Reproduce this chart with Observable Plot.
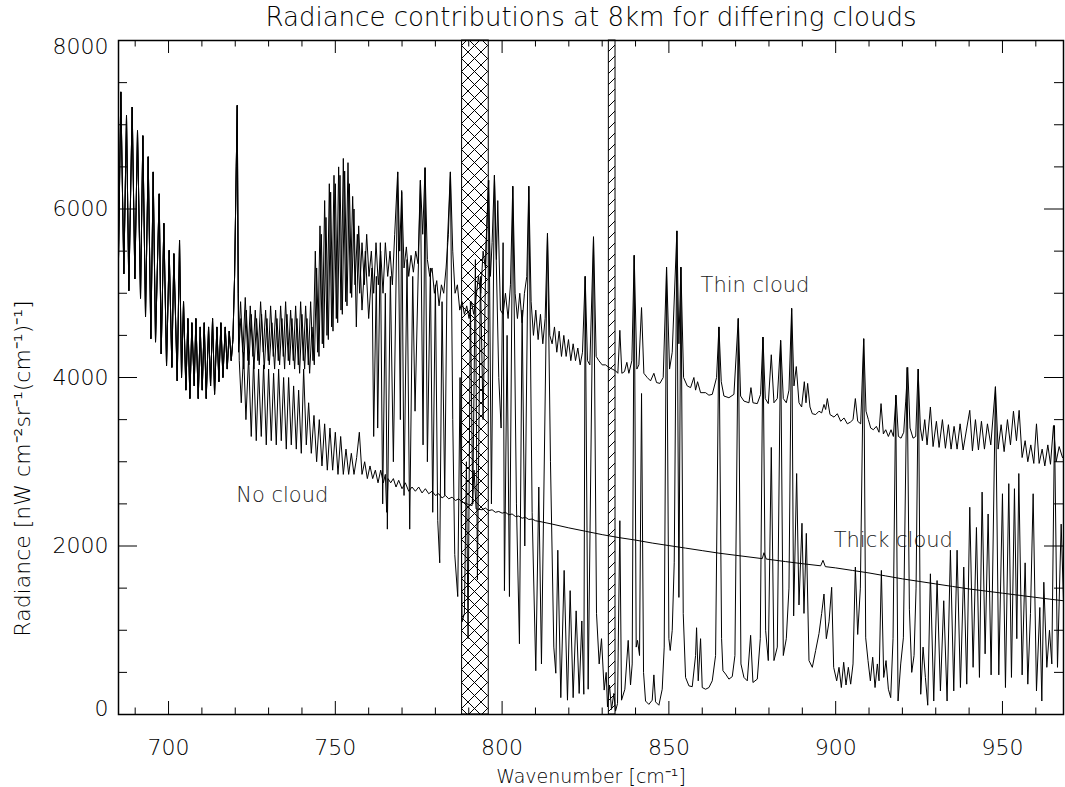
<!DOCTYPE html>
<html><head><meta charset="utf-8">
<script src="https://cdn.jsdelivr.net/npm/d3@7"></script>
<script src="https://cdn.jsdelivr.net/npm/@observablehq/plot@0.6"></script>
<style>
html,body{margin:0;padding:0;background:#fff;}
#chart{width:1065px;height:787px;}
</style></head><body><div id="chart"></div>
<script>
// ---- Text ----
const titleText = "Radiance contributions at 8km for differing clouds";
const xLabelText = "Wavenumber [cm\u207B\u00B9]";
const yLabelText = "Radiance [nW cm\u207B\u00B2sr\u207B\u00B9(cm\u207B\u00B9)\u207B\u00B9]";

// ---- Axes ----
const xDomain = [685, 968.3];
const yDomain = [0, 8000];
const xTickLabels = [700, 750, 800, 850, 900, 950];
const xMinorTicks = [690, 710, 720, 730, 740, 760, 770, 780, 790, 810, 820, 830, 840, 860, 870, 880, 890, 910, 920, 930, 940, 960];
const yTickLabelsInner = [2000, 4000, 6000];
const yTickLabelBottom = [0];
const yTickLabelTop = [8000];
const yMajorTicks = [2000, 4000, 6000];
const yMinorTicks = [500, 1000, 1500, 2500, 3000, 3500, 4500, 5000, 5500, 6500, 7000, 7500];

// ---- Hatched windows [wavenumber from, to] ----
const crossBand = [788, 796];
const diagBand = [832, 834];

// ---- Curve labels [text, wavenumber, radiance] ----
const curveLabels = [["Thin cloud", 859.5, 5090], ["No cloud", 720.3, 2600], ["Thick cloud", 899.4, 2065]];

// ---- Spectra: [wavenumber, radiance] ----
// 685-721 cm-1: all three cases coincide
const commonSegment = [
[685.0,5400],[685.7,7390],[686.6,5230],[687.4,7110],[688.1,5030],[689.1,7210],[689.9,5170],[690.7,6930],
[691.6,4940],[692.3,6870],[693.1,4720],[693.9,6620],[694.7,4460],[695.4,6440],[696.1,4420],[697.2,6180],
[697.8,4280],[698.6,5830],[699.4,4140],[700.2,5510],[701.0,4120],[701.6,5470],[702.6,3960],[703.3,5630],
[703.9,4000],[704.5,4900],[705.2,3850],[705.8,4700],[706.4,3750],[707.0,4650],[707.7,3900],[708.2,4700],
[708.9,3750],[709.5,4600],[710.1,3850],[710.7,4650],[711.3,3750],[712.0,4600],[712.6,3900],[713.2,4700],
[713.8,3800],[714.5,4600],[715.1,3950],[715.7,4650],[716.3,4000],[717.0,4600],[717.6,4100],[718.2,4550],
[718.8,4200],[719.3,4450],[719.8,5200],[720.3,6500],[720.6,7230],[720.9,5000]
];

const thinCloud = [
[721.0,4400],[721.6,4900],[722.3,4300],[723.0,4950],[723.8,4200],[724.5,4850],[725.3,4250],[726.0,4800],
[726.8,4200],[727.6,4900],[728.4,4300],[729.1,4800],[729.9,4200],[730.6,4850],[731.4,4250],[732.1,4800],
[732.9,4200],[733.6,4850],[734.4,4250],[735.1,4900],[735.9,4200],[736.6,4800],[737.4,4200],[738.1,4850],
[738.9,4150],[739.6,4900],[740.4,4200],[741.1,4850],[741.9,4150],[742.6,4900],[743.3,4200],[744.0,5500],
[744.7,4300],[745.4,5800],[746.1,4400],[746.8,6100],[747.5,4500],[748.2,6300],[748.9,4600],[749.6,6400],
[750.3,4700],[751.0,6500],[751.7,4800],[752.4,6600],[753.1,4900],[753.8,6550],[754.5,5000],[755.2,6150],
[755.9,5100],[756.6,5700],[757.3,5000],[758.0,5600],[758.7,5100],[759.4,5700],[760.1,5200],[760.8,5500],
[761.5,5000],[762.2,5600],[762.9,5100],[763.6,5500],[764.3,5000],[765.0,5600],[765.7,5200],[766.4,5500],
[767.1,5100],[767.8,5700],[768.7,6440],[769.3,5500],[769.9,6220],[770.6,5300],[771.3,5550],[772.0,5200],
[772.7,5450],[773.4,5250],[774.1,5500],[774.8,5350],[775.5,6340],[776.2,5700],[776.9,6490],[777.6,5400],
[778.3,5200],[779.0,5300],[779.7,5000],[780.4,5150],[781.1,4850],[781.8,5100],[782.5,5000],[783.2,5300],
[783.9,5700],[784.5,6440],[785.2,5500],[785.9,5000],[786.6,5100],[787.3,4800],[788.0,4900],[788.7,4750],
[789.4,4850],[790.1,4700],[790.8,4900],[791.5,4750],[792.2,4950],[792.9,5200],[793.6,5000],[794.3,5500],
[795.0,5300],[795.9,6340],[796.5,5200],[797.0,5600],[797.7,6400],[798.3,5400],[798.7,6100],[799.5,4800],
[800.3,4750],[801.0,5000],[801.8,4700],[802.5,5100],[803.2,6270],[803.9,5000],[804.6,4700],[805.3,5000],
[806.0,4650],[806.7,5000],[807.4,5200],[808.0,6270],[808.7,4900],[809.4,4500],[810.1,4800],[810.8,4450],
[811.5,4750],[812.2,4400],[812.9,4700],[813.6,5710],[814.3,4500],[815.0,4400],[815.7,4600],[816.4,4300],
[817.1,4550],[817.8,4250],[818.5,4500],[819.2,4250],[819.9,4450],[820.6,4200],[821.3,4400],[822.0,4200],
[822.7,4350],[823.4,4150],[824.1,4300],[824.9,5200],[825.6,4200],[826.3,4150],[827.4,5670],[828.2,4250],
[829.0,4200],[830.0,4150],[831.0,4150],[832.0,4120],[833.0,4100],[834.0,4080],[834.7,4050],[835.3,4560],
[835.9,4050],[836.7,4070],[837.4,4180],[838.0,4050],[838.9,4200],[839.6,5450],[840.4,4100],[841.0,4150],
[841.8,4830],[842.5,4050],[843.5,4000],[844.5,3960],[845.5,4050],[846.3,3940],[847.3,3930],[848.3,4000],
[849.3,5310],[850.2,4100],[851.0,4300],[852.4,5740],[853.0,4400],[853.6,5310],[854.4,4000],[855.5,3900],
[856.5,3880],[857.5,4000],[858.0,3850],[858.6,3950],[859.5,3820],[861.0,3820],[862.0,3790],[863.0,3800],
[864.3,4000],[865.0,4600],[865.7,3950],[866.5,3780],[868.0,3760],[869.5,3800],[870.8,4700],[871.5,3780],
[872.5,3720],[874.0,3700],[874.6,3880],[875.2,3700],[876.5,3690],[877.5,3800],[878.2,4480],[878.9,3750],
[879.8,3690],[880.7,4270],[881.5,3700],[882.5,3750],[883.5,4440],[884.3,3750],[885.2,3700],[886.0,3850],
[886.8,4820],[887.5,3900],[888.2,4130],[889.0,3700],[889.8,3650],[890.6,3950],[891.1,3700],[891.6,3930],
[892.3,3650],[893.0,3570],[894.0,3560],[895.0,3600],[895.8,3580],[896.5,3680],[897.0,3620],[897.5,3750],
[898.3,3560],[899.5,3530],[900.5,3570],[901.5,3480],[902.5,3520],[903.5,3450],[904.4,3470],[905.2,3500],
[905.9,3750],[906.6,3480],[907.5,3450],[908.4,4460],[909.1,3600],[909.8,3500],[910.5,3400],[911.3,3380],
[912.2,3420],[913.0,3350],[913.6,3690],[914.3,3330],[915.0,3380],[915.8,3300],[916.6,3380],[917.3,3300],
[918.1,3790],[918.8,3300],[919.6,3280],[920.4,3350],[921.0,3720],[921.6,4120],[922.3,3400],[923.2,3280],
[924.0,3300],[924.7,4100],[925.4,3400],[926.0,3250],[926.7,3500],[927.4,3200],[928.4,3650],[929.2,3180],
[930.2,3480],[931.0,3170],[932.0,3500],[932.9,3160],[933.8,3440],[934.6,3150],[935.5,3420],[936.4,3150],
[937.3,3450],[938.2,3140],[939.3,3400],[940.2,3610],[941.0,3130],[941.9,3500],[942.8,3140],[943.7,3480],
[944.6,3150],[945.5,3450],[946.5,3200],[947.9,3890],[948.7,3150],[949.6,3440],[950.5,3120],[951.5,3500],
[952.4,3200],[953.3,3600],[954.2,3250],[955.0,3610],[955.9,3050],[956.8,3250],[957.6,3000],[958.5,3200],
[959.4,2980],[960.2,3450],[961.0,2980],[961.9,3150],[962.7,2950],[963.6,3200],[964.4,2970],[965.3,3430],
[966.1,3000],[967.0,3180],[968.0,3050]
];

const thickCloud = [
[721.0,4300],[721.7,4700],[722.5,4100],[723.3,4800],[724.1,4150],[724.8,4750],[725.6,4100],[726.4,4700],
[727.2,4150],[727.9,4750],[728.7,4100],[729.5,4700],[730.2,4150],[731.0,4650],[731.8,4100],[732.5,4700],
[733.3,4150],[734.0,4700],[734.8,4100],[735.5,4750],[736.3,4150],[737.0,4700],[737.8,4100],[738.5,4700],
[739.3,4050],[740.0,4750],[740.8,4100],[741.5,4700],[742.3,4050],[743.0,4600],[743.7,4150],[744.4,5300],
[745.1,4250],[745.8,5700],[746.5,4350],[747.2,5900],[747.9,4450],[748.6,6200],[749.3,4550],[750.0,6300],
[750.7,4650],[751.4,6400],[752.1,4750],[752.8,6450],[753.5,4850],[754.2,6300],[754.9,4950],[755.6,6000],
[756.3,4600],[757.0,5800],[758.0,4800],[759.0,5500],[760.0,4700],[761.0,5300],[761.5,3300],[762.3,5200],
[762.7,3400],[763.5,5600],[764.2,2500],[765.0,5000],[765.6,2200],[766.5,5200],[767.4,3000],[768.7,6440],
[769.5,3500],[769.9,6200],[770.6,2600],[771.5,5400],[772.3,2200],[773.2,5200],[773.9,3600],[775.5,6340],
[776.3,3200],[776.9,6490],[777.6,3000],[778.5,5300],[779.2,2400],[780.0,5100],[780.7,2300],[781.3,1800],
[782.0,4900],[782.8,2600],[783.6,5600],[784.5,6440],[785.2,3500],[785.8,1900],[786.7,1400],[787.4,4000],
[788.0,1100],[788.7,1200],[789.3,3000],[789.8,900],[790.5,4900],[791.2,2500],[792.0,5400],[792.6,1600],
[793.5,5200],[794.3,3500],[795.2,5600],[796.0,6340],[796.8,2500],[797.7,6400],[799.0,4000],[799.7,3400],
[800.3,5600],[800.7,1470],[801.5,4500],[802.2,1400],[803.2,6270],[804.3,2500],[805.2,840],[806.0,4800],
[806.8,2000],[808.0,6270],[809.0,2400],[810.1,520],[811.0,2700],[811.8,600],[813.6,5710],[814.5,3000],
[815.5,800],[816.1,490],[816.7,1950],[817.6,200],[818.6,1710],[819.6,170],[820.4,1470],[821.3,200],
[822.2,1230],[823.1,250],[823.9,1110],[824.5,240],[824.9,5200],[825.8,300],[827.4,5670],[828.3,1200],
[829.1,600],[829.8,900],[830.6,290],[831.2,500],[831.6,90],[832.2,350],[832.8,60],[833.5,250],
[834.0,40],[834.6,130],[835.3,2300],[835.8,170],[836.8,300],[837.8,880],[838.5,350],[839.0,600],
[839.6,5450],[840.2,800],[840.6,880],[841.2,700],[841.8,3810],[842.4,500],[843.0,160],[844.0,120],
[845.0,170],[845.5,470],[846.0,150],[847.0,110],[848.0,300],[848.6,800],[849.3,5310],[850.0,900],
[850.4,760],[851.0,1000],[851.6,1800],[852.4,5740],[853.0,1390],[853.6,5310],[854.3,1200],[855.0,440],
[856.0,340],[857.0,330],[858.0,700],[858.3,1030],[858.8,400],[859.5,900],[860.0,320],[861.0,300],
[862.0,320],[863.0,400],[864.0,700],[865.0,4600],[865.8,900],[866.2,520],[867.0,480],[868.0,420],
[869.0,450],[869.8,700],[870.8,4700],[871.6,600],[872.5,440],[873.5,400],[874.5,940],[875.2,380],
[876.5,420],[877.4,900],[878.2,4480],[879.0,1000],[879.8,640],[880.7,3170],[881.5,640],[882.5,800],
[883.5,4440],[884.3,700],[885.2,900],[886.0,1500],[886.8,4820],[887.4,1170],[888.3,2860],[889.0,1300],
[889.9,2270],[890.5,1200],[891.2,2150],[892.0,640],[893.0,560],[894.0,760],[895.0,960],[895.8,1200],
[896.5,1430],[897.2,900],[898.0,1100],[898.8,1510],[899.4,560],[900.3,400],[901.0,560],[901.7,320],
[902.4,620],[903.1,350],[903.8,560],[904.5,360],[905.2,600],[905.9,1750],[906.6,950],[907.4,1500],
[908.4,4460],[909.0,910],[909.7,640],[910.4,400],[911.1,680],[911.8,320],[912.5,600],[913.0,400],
[913.7,1710],[914.4,440],[915.1,640],[915.8,300],[916.5,200],[917.2,900],[918.0,3790],[918.7,160],
[919.5,600],[920.3,910],[921.4,4120],[922.1,1250],[922.8,500],[923.5,700],[924.1,1500],[924.8,4100],
[925.5,240],[926.2,800],[926.9,440],[927.6,110],[928.4,1670],[929.4,160],[930.4,1590],[931.4,280],
[932.4,1350],[933.4,160],[934.4,1950],[935.4,280],[936.4,1950],[937.4,320],[938.4,1750],[939.3,360],
[940.2,2460],[941.2,560],[942.2,2220],[943.1,440],[943.9,2640],[944.8,720],[945.7,2380],[946.6,470],
[947.9,3890],[948.9,470],[950.0,2620],[950.9,320],[951.9,2740],[952.7,440],[953.6,2680],[954.3,900],
[954.9,2860],[955.9,470],[956.8,1800],[957.6,360],[958.4,1200],[959.2,2620],[960.2,280],[961.2,1270],
[961.8,160],[962.4,1570],[963.3,560],[964.1,1000],[964.8,600],[965.6,3430],[966.5,560],[967.6,2260],
[968.3,1350]
];

const noCloud = [
[721.2,4200],[721.8,3700],[722.5,4300],[723.2,3500],[724.0,4250],[724.8,3300],[725.5,4200],[726.3,3250],
[727.0,4100],[727.8,3300],[728.5,4150],[729.3,3200],[730.0,4100],[730.8,3250],[731.5,4050],[732.3,3200],
[733.0,4100],[733.8,3250],[734.5,4000],[735.3,3150],[736.0,4000],[736.8,3200],[737.5,3900],[738.3,3150],
[739.0,3850],[739.8,3100],[740.5,4100],[741.3,3200],[742.0,3700],[742.8,3100],[743.6,3550],[744.4,3000],
[745.2,3500],[746.0,2950],[746.8,3450],[747.6,2900],[748.4,3400],[749.2,2900],[750.0,3350],[750.8,2850],
[751.6,3300],[752.4,2850],[753.2,3150],[754.0,2850],[754.8,3100],[755.6,2850],[756.4,3050],[757.2,3350],
[758.0,2850],[758.8,3000],[759.6,2800],[760.4,2950],[761.2,2800],[762.0,2900],[762.8,2750],[763.6,2900],
[764.4,2750],[765.0,2850],[765.4,2400],[765.8,2800],[766.6,2750],[767.4,2800],[768.2,2700],[769.0,2780],
[770.0,2680],[771.0,2750],[772.0,2650],[773.0,2700],[774.0,2650],[775.0,2700],[776.0,2630],[777.0,2680],
[778.0,2620],[779.0,2650],[780.0,2600],[781.0,2620],[782.0,2570],[783.0,2600],[784.0,2560],[785.0,2580],
[786.0,2540],[787.0,2560],[788.0,2520],[789.0,2510],[790.0,2490],[791.0,2480],[791.6,2900],[792.2,2440],
[794.0,2430],[795.0,2450],[796.0,2420],[797.0,2430],[798.0,2400],[799.0,2410],[800.0,2390],[801.0,2400],
[802.0,2370],[803.0,2380],[804.0,2350],[805.0,2355],[806.0,2330],[807.0,2340],[808.0,2315],[809.0,2320],
[810.0,2300],[812.0,2285],[815.0,2260],[820.0,2215],[825.0,2175],[830.0,2135],[835.0,2100],[840.0,2070],
[845.0,2035],[850.0,2005],[855.0,1975],[860.0,1945],[865.0,1915],[870.0,1890],[878.0,1850],[878.5,1920],
[879.2,1845],[885.0,1815],[890.0,1790],[895.5,1765],[896.2,1830],[896.9,1755],[900.0,1740],[905.0,1710],
[910.0,1680],[915.0,1645],[920.0,1610],[925.0,1580],[930.0,1550],[935.0,1520],[940.0,1490],[945.0,1465],
[950.0,1440],[955.0,1415],[960.0,1390],[964.0,1370],[968.3,1350]
];

// ---- Build table ----
const series = [
  ["Thin cloud", commonSegment.concat(thinCloud)],
  ["Thick cloud", commonSegment.concat(thickCloud)],
  ["No cloud", commonSegment.concat(noCloud)]
];
const rows = series.flatMap(([name, pts]) => pts.map(([wn, rad]) => ({name, wn, rad})));

const W = 945, H = 674; // frame size in px
const font = "'DejaVu Sans', 'Liberation Sans', sans-serif";

const plot = Plot.plot({
  width: 1065,
  height: 787,
  marginLeft: 118,
  marginRight: 2,
  marginTop: 40,
  marginBottom: 73,
  x: {domain: xDomain},
  y: {domain: yDomain},
  style: {fontFamily: font, fontWeight: 200, color: "#000", background: "#fff"},
  marks: [
    // curve labels (under the lines)
    Plot.text(curveLabels, {x: d => d[1], y: d => d[2], text: d => d[0], textAnchor: "start", lineAnchor: "middle", fontSize: 21, fill: "#222", letterSpacing: "0.8px"}),
    // hatched windows
    Plot.rect([crossBand], {x1: d => d[0], x2: d => d[1], y1: yDomain[0], y2: yDomain[1], fill: "url(#xhatch)", stroke: "#000", strokeWidth: 1}),
    Plot.rect([diagBand], {x1: d => d[0], x2: d => d[1], y1: yDomain[0], y2: yDomain[1], fill: "url(#dhatch)", stroke: "#000", strokeWidth: 1}),
    // spectra
    Plot.line(rows, {x: "wn", y: "rad", z: "name", stroke: "#000", strokeWidth: 1, strokeLinejoin: "miter"}),
    // frame
    Plot.frame({stroke: "#000", strokeWidth: 1.5}),
    // inward ticks, bottom & top
    Plot.ruleX(xTickLabels, {insetTop: H - 13, stroke: "#000"}),
    Plot.ruleX(xMinorTicks, {insetTop: H - 6.5, stroke: "#000"}),
    Plot.ruleX(xTickLabels, {insetBottom: H - 13, stroke: "#000"}),
    Plot.ruleX(xMinorTicks, {insetBottom: H - 6.5, stroke: "#000"}),
    // inward ticks, left & right
    Plot.ruleY(yMajorTicks, {insetRight: W - 19, stroke: "#000"}),
    Plot.ruleY(yMinorTicks, {insetRight: W - 9, stroke: "#000"}),
    Plot.ruleY(yMajorTicks, {insetLeft: W - 19, stroke: "#000"}),
    Plot.ruleY(yMinorTicks, {insetLeft: W - 9, stroke: "#000"}),
    // tick labels
    Plot.axisX(xTickLabels, {anchor: "bottom", tickSize: 0, tickPadding: 25, fontSize: 22, label: null, tickFormat: d => String(d)}),
    Plot.axisY(yTickLabelsInner, {anchor: "left", tickSize: 0, tickPadding: 10, fontSize: 22, label: null, tickFormat: d => String(d)}),
    Plot.axisY(yTickLabelBottom, {anchor: "left", tickSize: 0, tickPadding: 10, fontSize: 22, label: null, dy: -6, tickFormat: d => String(d)}),
    Plot.axisY(yTickLabelTop, {anchor: "left", tickSize: 0, tickPadding: 10, fontSize: 22, label: null, dy: 6, tickFormat: d => String(d)}),
    // titles
    Plot.text([titleText], {frameAnchor: "top", dy: -23, lineAnchor: "middle", textAnchor: "middle", fontSize: 26, letterSpacing: "1.3px", fill: "#000"}),
    Plot.text([xLabelText], {frameAnchor: "bottom", dy: 62, lineAnchor: "middle", textAnchor: "middle", fontSize: 19, letterSpacing: "0.8px", fill: "#000"}),
    Plot.text([yLabelText], {frameAnchor: "left", dx: -96, dy: 91, rotate: -90, lineAnchor: "middle", textAnchor: "middle", fontSize: 22, letterSpacing: "2px", fill: "#000"})
  ]
});

// hatch patterns
const svg = d3.select(plot);
const defs = svg.insert("defs", ":first-child");
const xp = defs.append("pattern").attr("id", "xhatch").attr("patternUnits", "userSpaceOnUse")
  .attr("width", 13).attr("height", 13);
xp.append("path").attr("d", "M0,0L13,13M13,0L0,13").attr("stroke", "#000").attr("stroke-width", 1).attr("fill", "none");
const dp = defs.append("pattern").attr("id", "dhatch").attr("patternUnits", "userSpaceOnUse")
  .attr("width", 11).attr("height", 11);
dp.append("path").attr("d", "M0,11L11,0M-1,1L1,-1M10,12L12,10").attr("stroke", "#000").attr("stroke-width", 1).attr("fill", "none");

document.getElementById("chart").append(plot);
</script>
</body></html>
